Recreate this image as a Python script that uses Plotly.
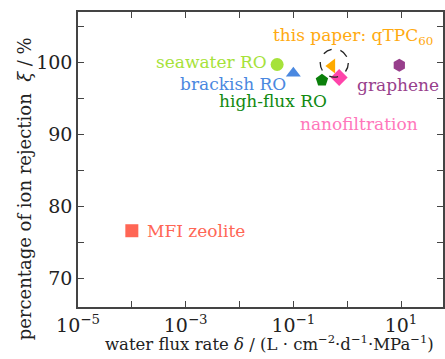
import plotly.graph_objects as go

names = ["seawater RO", "brackish RO", "high-flux RO", "this paper: qTPC<sub>60</sub>",
         "nanofiltration", "graphene", "MFI zeolite"]
flux = [0.05, 0.1, 0.34, 0.52, 0.71, 9.3, 1.0e-4]
rejection = [99.7, 98.5, 97.5, 99.5, 97.9, 99.6, 76.6]
symbols = ["circle", "triangle-up", "pentagon", "triangle-left", "diamond", "hexagon", "square"]
marker_colors = ["#a6e23a", "#4a88e0", "#0b800b", "#ffaa00", "#ff44aa", "#983f8c", "#ff6655"]
text_colors = ["#a6e23a", "#4a88e0", "#118a11", "#ffaa11", "#ff77bb", "#983f8c", "#ff6655"]
# label anchor positions (log10 flux, rejection) and alignment
label_x = [-1.46, -1.09, -0.33, -1.41, -0.91, 0.15, -3.76]
label_y = [100.0, 97.0, 94.7, 103.6, 91.5, 96.8, 76.5]
label_anchor = ["right", "right", "right", "left", "left", "left", "left"]

x_tickvals = [1e-5, 1e-3, 1e-1, 1e1]
x_ticktext = ["10<sup>−5</sup>", "10<sup>−3</sup>", "10<sup>−1</sup>", "10<sup>1</sup>"]
x_minor = [1e-4, 1e-2, 1, 100]
y_tickvals = [70, 80, 90, 100]

FONT = "DejaVu Serif"
AX = "#444444"

fig = go.Figure()
for n, xv, yv, s, c in zip(names, flux, rejection, symbols, marker_colors):
    fig.add_trace(go.Scatter(x=[xv], y=[yv], mode="markers", name=n,
                             marker=dict(symbol=s, size=13, color=c, line=dict(width=0))))

for n, lx, ly, a, c in zip(names, label_x, label_y, label_anchor, text_colors):
    fig.add_annotation(x=lx, y=ly, xref="x", yref="y", text=n, showarrow=False,
                       xanchor=a, yanchor="middle", font=dict(family=FONT, size=17, color=c))

# dashed circle highlighting this paper's point
fig.add_shape(type="circle", xref="x", yref="y", x0=0.316, x1=1.05, y0=97.95, y1=101.85,
              line=dict(color="#222222", width=1.3, dash="dash"))

fig.add_annotation(x=0.526, y=-0.122, xref="paper", yref="paper", showarrow=False,
                   text="water flux rate <i>δ</i> / (L · cm<sup>−2</sup>·d<sup>−1</sup>·MPa<sup>−1</sup>)",
                   font=dict(family=FONT, size=16.5, color="#222"), xanchor="center", yanchor="middle")
fig.add_annotation(x=-0.147, y=0.40, xref="paper", yref="paper", showarrow=False, textangle=-90,
                   text="percentage of ion rejection  <i>ξ</i> / %",
                   font=dict(family=FONT, size=18, color="#222"), xanchor="center", yanchor="middle")

fig.update_xaxes(type="log", range=[-5, 1.78], tickmode="array", tickvals=x_tickvals,
                 ticktext=x_ticktext, automargin=False,
                 ticks="inside", ticklen=6, tickcolor=AX, tickwidth=1.2,
                 minor=dict(tickvals=x_minor, ticks="inside", ticklen=6, tickcolor=AX),
                 showline=True, linecolor=AX, linewidth=1.5, mirror="ticks",
                 showgrid=False, zeroline=False,
                 tickfont=dict(family=FONT, size=19, color="#222"))
fig.update_yaxes(range=[66, 107], tickmode="array", tickvals=y_tickvals, automargin=False,
                 ticks="inside", ticklen=6, tickcolor=AX, tickwidth=1.2,
                 minor=dict(tick0=65, dtick=10, ticks="inside", ticklen=6, tickcolor=AX),
                 showline=True, linecolor=AX, linewidth=1.5, mirror="ticks",
                 showgrid=False, zeroline=False,
                 tickfont=dict(family=FONT, size=19, color="#222"))

fig.update_layout(width=445, height=359, margin=dict(l=78, r=2, t=12, b=52),
                  plot_bgcolor="white", paper_bgcolor="white", showlegend=False,
                  font=dict(family=FONT))
fig.write_html("out.html", config={"displayModeBar": False},
               post_script="document.body.style.margin='0';")
